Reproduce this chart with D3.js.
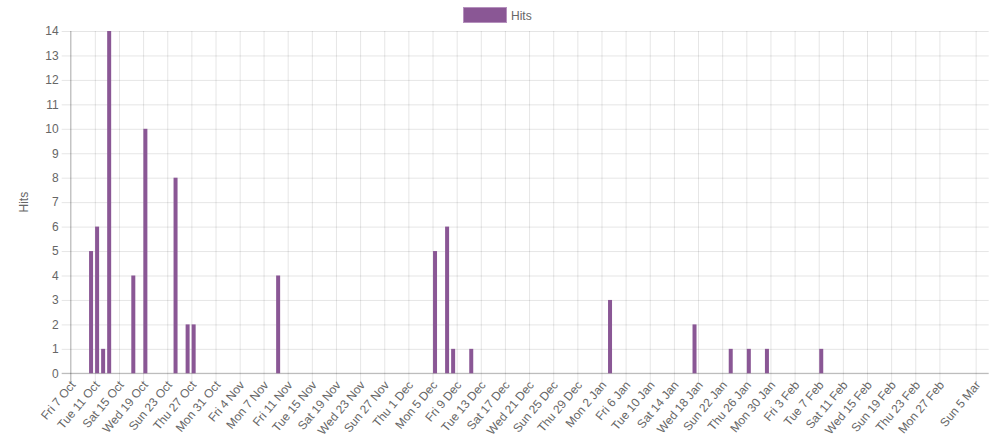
<!DOCTYPE html>
<html>
<head>
<meta charset="utf-8">
<script src="https://cdn.jsdelivr.net/npm/d3@7"></script>
<style>
  body { margin: 0; background: #fff; }
  svg text { font-family: "Liberation Sans", Arial, Helvetica, sans-serif; fill: #666; font-size: 12px; }
</style>
</head>
<body>
<svg id="chart" width="998" height="444"></svg>
<script>
// daily hits (days with no hits are left out)
const days = ["2016-10-10","2016-10-11","2016-10-12","2016-10-13","2016-10-17","2016-10-19",
  "2016-10-24","2016-10-26","2016-10-27","2016-11-10","2016-12-06","2016-12-08","2016-12-09",
  "2016-12-12","2017-01-04","2017-01-18","2017-01-24","2017-01-27","2017-01-30","2017-02-08"];
const hits = [5,6,1,14,4,10,8,2,2,4,5,6,1,1,3,2,1,1,1,1];

// time ticks of the x axis (4 day step, shifted an hour after the clock change)
const tickTimes = ["2016-10-07T00:00","2016-10-11T00:00","2016-10-15T00:00","2016-10-19T00:00",
  "2016-10-23T00:00","2016-10-27T00:00","2016-10-31T00:00","2016-11-04T00:00",
  "2016-11-07T23:00","2016-11-11T23:00","2016-11-15T23:00","2016-11-19T23:00","2016-11-23T23:00",
  "2016-11-27T23:00","2016-12-01T23:00","2016-12-05T23:00","2016-12-09T23:00","2016-12-13T23:00",
  "2016-12-17T23:00","2016-12-21T23:00","2016-12-25T23:00","2016-12-29T23:00","2017-01-02T23:00",
  "2017-01-06T23:00","2017-01-10T23:00","2017-01-14T23:00","2017-01-18T23:00","2017-01-22T23:00",
  "2017-01-26T23:00","2017-01-30T23:00","2017-02-03T23:00","2017-02-07T23:00","2017-02-11T23:00",
  "2017-02-15T23:00","2017-02-19T23:00","2017-02-23T23:00","2017-02-27T23:00","2017-03-05T23:00"];
const xRange = ["2016-10-07T00:00", "2017-03-08T03:00"];
const yTicks = [0,1,2,3,4,5,6,7,8,9,10,11,12,13,14];

const parseDay = d3.utcParse("%Y-%m-%d");
const parseTime = d3.utcParse("%Y-%m-%dT%H:%M");
const fmt = d3.utcFormat("%a %-d %b");

const pLeft = 70.7, pRight = 988.7, pTop = 31, pBottom = 373.3;
const barColor = "#8a5795";

const svg = d3.select("#chart");

const x = d3.scaleUtc()
  .domain(xRange.map(parseTime))
  .range([pLeft, pRight]);
const y = d3.scaleLinear()
  .domain([0, 14])
  .range([pBottom, pTop]);

// horizontal grid + y labels
const yAxis = svg.append("g")
  .attr("transform", "translate(" + pRight + ",0)")
  .call(d3.axisLeft(y).tickValues(yTicks).tickSize(pRight - pLeft + 9).tickPadding(3).tickSizeOuter(0));
yAxis.select(".domain").remove();
yAxis.selectAll(".tick line").attr("stroke", "rgba(0,0,0,0.1)");
yAxis.selectAll(".tick text").attr("font-size", 12);

// vertical grid + date labels
const xAxis = svg.append("g")
  .attr("transform", "translate(0," + pTop + ")")
  .call(d3.axisBottom(x).tickValues(tickTimes.map(parseTime)).tickFormat(fmt)
    .tickSize(pBottom - pTop + 9).tickPadding(0).tickSizeOuter(0));
xAxis.select(".domain").remove();
xAxis.selectAll(".tick line").attr("stroke", "rgba(0,0,0,0.1)");
xAxis.selectAll(".tick text")
  .attr("y", 0).attr("dy", 0)
  .attr("text-anchor", "end")
  .attr("transform", "translate(5," + (pBottom - pTop + 12) + ") rotate(-50)")
  .attr("font-size", 12);

// zero lines
svg.append("line")
  .attr("x1", pLeft - 9).attr("x2", pRight)
  .attr("y1", y(0)).attr("y2", y(0))
  .attr("stroke", "rgba(0,0,0,0.25)");
svg.append("line")
  .attr("x1", x(parseTime(tickTimes[0]))).attr("x2", x(parseTime(tickTimes[0])))
  .attr("y1", pTop).attr("y2", pBottom + 9)
  .attr("stroke", "rgba(0,0,0,0.25)");

// bars, each one sits a bit after the start of its day
const barShiftHours = 9, barW = 4;
svg.append("g")
  .selectAll("rect")
  .data(days.map((d, i) => ({ day: parseDay(d), v: hits[i] })))
  .enter()
  .append("rect")
  .attr("x", d => x(d3.utcHour.offset(d.day, barShiftHours)) - barW / 2)
  .attr("y", d => y(d.v))
  .attr("width", barW)
  .attr("height", d => y(0) - y(d.v))
  .attr("fill", barColor);

// y title
svg.append("text")
  .attr("transform", "translate(28," + ((pTop + pBottom) / 2) + ") rotate(-90)")
  .attr("text-anchor", "middle")
  .text("Hits");

// legend
svg.append("rect")
  .attr("x", 463.5).attr("y", 7.5).attr("width", 43).attr("height", 15)
  .attr("fill", barColor).attr("stroke", "#b590bd");
svg.append("text")
  .attr("x", 511).attr("y", 19.5)
  .text("Hits");
</script>
</body>
</html>
